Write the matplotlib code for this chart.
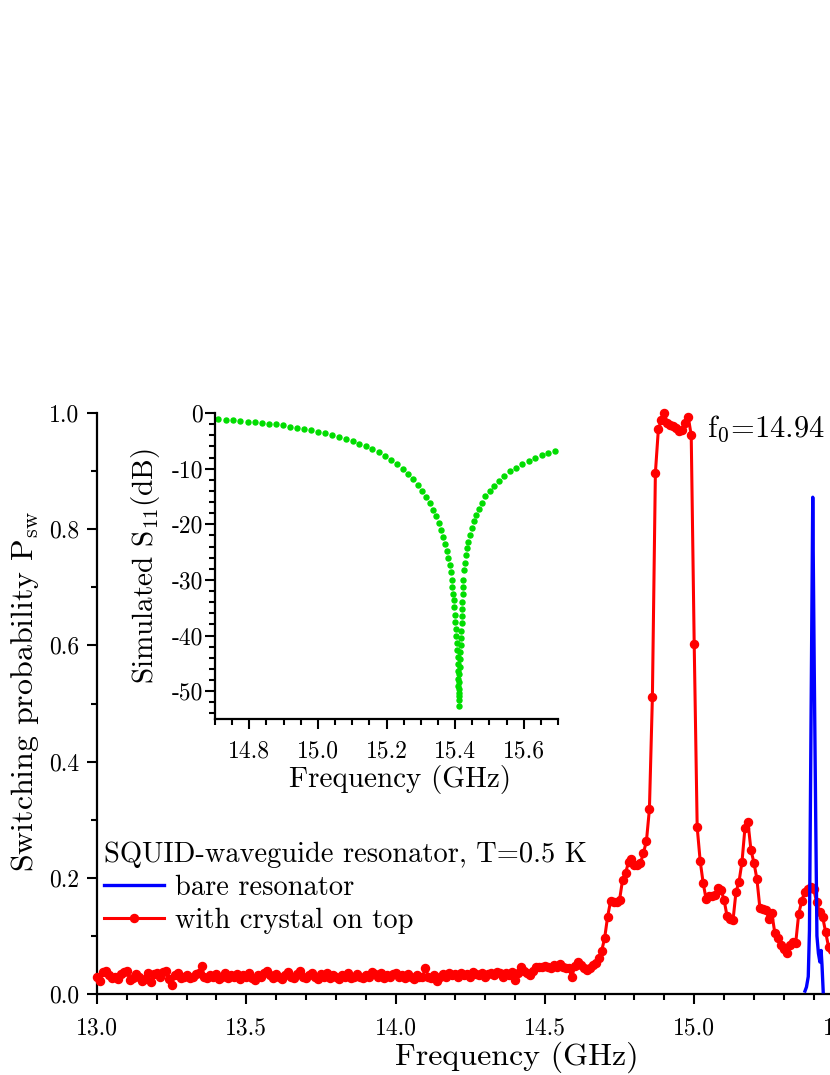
import numpy as np
import matplotlib
matplotlib.use("Agg")
import matplotlib.pyplot as plt
from matplotlib.ticker import MultipleLocator, FormatStrFormatter

plt.rcParams['font.family'] = 'cmr10'
plt.rcParams['mathtext.fontset'] = 'cm'
plt.rcParams['axes.unicode_minus'] = False

# red: switching probability with crystal on top, 10 MHz sweep 13.00 .. 15.47 GHz
red_freq = np.linspace(13.0, 15.47, 248)
red_psw = [
    0.030, 0.022, 0.038, 0.040, 0.032, 0.028, 0.030, 0.026, 0.034, 0.038,
    0.040, 0.024, 0.028, 0.034, 0.030, 0.022, 0.026, 0.036, 0.020, 0.034,
    0.036, 0.030, 0.038, 0.040, 0.026, 0.015, 0.032, 0.036, 0.028, 0.030,
    0.032, 0.028, 0.030, 0.034, 0.036, 0.048, 0.030, 0.028, 0.032, 0.030,
    0.034, 0.026, 0.030, 0.036, 0.028, 0.032, 0.030, 0.034, 0.026, 0.032,
    0.030, 0.036, 0.028, 0.024, 0.032, 0.030, 0.036, 0.040, 0.032, 0.028,
    0.034, 0.030, 0.026, 0.032, 0.038, 0.030, 0.028, 0.034, 0.040, 0.030,
    0.028, 0.032, 0.036, 0.030, 0.026, 0.034, 0.030, 0.036, 0.028, 0.032,
    0.030, 0.026, 0.032, 0.030, 0.036, 0.028, 0.030, 0.034, 0.030, 0.028,
    0.032, 0.030, 0.038, 0.034, 0.030, 0.036, 0.028, 0.032, 0.030, 0.034,
    0.036, 0.030, 0.032, 0.028, 0.034, 0.030, 0.026, 0.032, 0.030, 0.030,
    0.044, 0.030, 0.028, 0.032, 0.022, 0.030, 0.034, 0.030, 0.036, 0.032,
    0.034, 0.030, 0.036, 0.032, 0.034, 0.030, 0.038, 0.034, 0.032, 0.036,
    0.030, 0.034, 0.036, 0.032, 0.038, 0.036, 0.030, 0.036, 0.032, 0.038,
    0.024, 0.036, 0.046, 0.040, 0.036, 0.033, 0.040, 0.046, 0.047, 0.046,
    0.048, 0.047, 0.044, 0.050, 0.047, 0.052, 0.046, 0.044,
    0.045, 0.029, 0.048, 0.055, 0.050, 0.045, 0.041, 0.044, 0.050, 0.053,
    0.062, 0.074, 0.096, 0.133, 0.160, 0.158, 0.159, 0.162, 0.196, 0.208,
    0.227, 0.232, 0.222, 0.222, 0.225, 0.243, 0.263, 0.318, 0.511, 0.897,
    0.972, 0.988, 1.000, 0.983, 0.980, 0.978, 0.975, 0.969, 0.971, 0.982,
    0.993, 0.962, 0.602, 0.287, 0.229, 0.191, 0.163, 0.169, 0.169, 0.170,
    0.182, 0.179, 0.162, 0.134, 0.129, 0.127, 0.176, 0.193, 0.227, 0.286,
    0.296, 0.248, 0.226, 0.198, 0.148, 0.146, 0.145, 0.129, 0.139, 0.105,
    0.096, 0.084, 0.077, 0.071, 0.084, 0.090, 0.088, 0.138, 0.160, 0.176,
    0.181, 0.184, 0.181, 0.158, 0.141, 0.133, 0.107, 0.081, 0.075, 0.085,
]

# blue: bare resonator
blue_freq = [15.371, 15.376, 15.382, 15.386, 15.391, 15.397, 15.402,
             15.407, 15.411, 15.416, 15.421, 15.425, 15.428, 15.432]
blue_psw = [0.005, 0.012, 0.030, 0.110, 0.450, 0.855, 0.560,
            0.300, 0.100, 0.070, 0.055, 0.075, 0.050, 0.004]

# green: simulated S11 (inset)
sim_freq = [
    14.710, 14.732, 14.753, 14.774, 14.795, 14.816, 14.836, 14.857, 14.878, 14.898,
    14.919, 14.940, 14.960, 14.980, 15.001, 15.022, 15.042, 15.062, 15.082, 15.101,
    15.120, 15.140, 15.159, 15.178, 15.196, 15.213, 15.230, 15.247, 15.262, 15.278,
    15.291, 15.304, 15.315, 15.327, 15.337, 15.345, 15.353, 15.360, 15.366, 15.370,
    15.375, 15.380, 15.384, 15.387, 15.390, 15.392, 15.394, 15.396, 15.398, 15.400,
    15.401, 15.402, 15.404, 15.405, 15.406, 15.407, 15.408, 15.408, 15.409, 15.409,
    15.410, 15.410, 15.410,
    15.411, 15.411, 15.412, 15.412, 15.413, 15.414, 15.415, 15.416, 15.417, 15.418,
    15.419, 15.420, 15.421, 15.421, 15.422, 15.423, 15.424, 15.427, 15.430, 15.432,
    15.435, 15.439, 15.444, 15.449, 15.456, 15.461, 15.469, 15.478, 15.488, 15.501,
    15.514, 15.529, 15.543, 15.560, 15.577, 15.596, 15.614, 15.633, 15.653, 15.672,
    15.691,
]
sim_s11 = [
    -1.13, -1.20, -1.31, -1.43, -1.55, -1.67, -1.79, -1.91, -2.03, -2.21,
    -2.45, -2.63, -2.87, -3.11, -3.41, -3.65, -4.01, -4.31, -4.67, -5.09,
    -5.51, -5.99, -6.52, -7.06, -7.72, -8.44, -9.22, -10.06, -10.96, -11.92,
    -12.94, -14.02, -15.10, -16.24, -17.38, -18.58, -19.78, -20.98, -22.24, -23.50,
    -24.76, -26.02, -27.34, -28.66, -29.98, -31.20, -32.50, -33.70, -34.95, -36.30,
    -37.50, -38.80, -40.00, -41.35, -42.60, -43.90, -45.10, -46.40, -47.75, -49.00,
    -50.30, -51.50, -52.60,
    -50.90, -49.60, -48.30, -47.00, -45.60, -44.30, -43.00, -41.70, -40.40, -39.10,
    -37.80, -36.50, -35.20, -33.90, -32.60, -31.30, -30.00, -28.20, -26.90, -25.60,
    -24.30, -23.10, -21.90, -20.70, -19.50, -18.30, -17.20, -16.10, -15.00, -14.00,
    -13.05, -12.15, -11.30, -10.50, -9.87, -9.20, -8.62, -8.08, -7.60, -7.24,
    -6.82,
]

fig = plt.figure(figsize=(8.3, 10.75), dpi=100)

# main axes (extends past the right edge like the original)
ax = fig.add_axes([97 / 830, 81 / 1075, 746.5 / 830, 581 / 1075])
red_line, = ax.plot(red_freq, red_psw, color='#ff0000', lw=2.2, marker='o',
                    ms=5.8, clip_on=False, zorder=3)
blue_line, = ax.plot(blue_freq, blue_psw, color='#0000ff', lw=2.4, zorder=4)

ax.set_xlim(13.0, 15.5)
ax.set_ylim(0, 1.0)
ax.xaxis.set_major_locator(MultipleLocator(0.5))
ax.xaxis.set_minor_locator(MultipleLocator(0.1))
ax.yaxis.set_major_locator(MultipleLocator(0.2))
ax.yaxis.set_minor_locator(MultipleLocator(0.1))
ax.xaxis.set_major_formatter(FormatStrFormatter('%.1f'))
ax.yaxis.set_major_formatter(FormatStrFormatter('%.1f'))
for s in ['top', 'right']:
    ax.spines[s].set_visible(False)
for s in ['left', 'bottom']:
    ax.spines[s].set_linewidth(1.6)
ax.tick_params(which='both', direction='out', width=1.5, labelsize=17)
ax.tick_params(which='major', length=7.5)
ax.tick_params(which='minor', length=4.3)
ax.tick_params(axis='x', pad=9)
ax.tick_params(axis='y', pad=5)
ax.set_xlabel('Frequency (GHz)', fontsize=23, labelpad=2)
ax.xaxis.label.set_x(0.563)
ax.set_ylabel(r'Switching probability $\mathrm{P_{sw}}$', fontsize=23, labelpad=6)
ax.yaxis.label.set_y(0.52)

ax.legend([blue_line, red_line], ['bare resonator', 'with crystal on top'],
          title='SQUID-waveguide resonator, T=0.5 K', frameon=False,
          fontsize=20.5, title_fontsize=20.5, loc='upper left',
          bbox_to_anchor=(104 / 830, (1075 - 842) / 1075),
          bbox_transform=fig.transFigure, handlelength=2.1,
          handletextpad=0.4, labelspacing=0.22, borderpad=0,
          borderaxespad=0, alignment='left')

fig.text(707 / 830, (1075 - 437) / 1075, r'f$_0$=14.94 GHz',
         fontsize=22, va='baseline')

# inset: simulated S11
axi = fig.add_axes([215 / 830, (1075 - 719) / 1075, 343 / 830, 306 / 1075])
axi.set_facecolor('none')
axi.plot(sim_freq, sim_s11, ls='none', marker='o', ms=3.6, color='#00dd00')
axi.set_xlim(14.7, 15.7)
axi.set_ylim(-55, 0)
axi.xaxis.set_major_locator(MultipleLocator(0.2))
axi.xaxis.set_minor_locator(MultipleLocator(0.05))
axi.yaxis.set_major_locator(MultipleLocator(10))
axi.yaxis.set_minor_locator(MultipleLocator(2))
axi.xaxis.set_major_formatter(FormatStrFormatter('%.1f'))
for s in ['top', 'right']:
    axi.spines[s].set_visible(False)
for s in ['left', 'bottom']:
    axi.spines[s].set_linewidth(1.6)
axi.tick_params(which='both', direction='out', width=1.5, labelsize=17)
axi.tick_params(which='major', length=7.5)
axi.tick_params(which='minor', length=4.0)
axi.tick_params(axis='x', pad=8)
axi.tick_params(axis='y', pad=1)
axi.set_xlabel('Frequency (GHz)', fontsize=21, labelpad=2)
axi.xaxis.label.set_x(0.54)
axi.set_ylabel(r'Simulated $\mathrm{S_{11}}$(dB)', fontsize=21, labelpad=7)

fig.savefig('out.png', dpi=100)
